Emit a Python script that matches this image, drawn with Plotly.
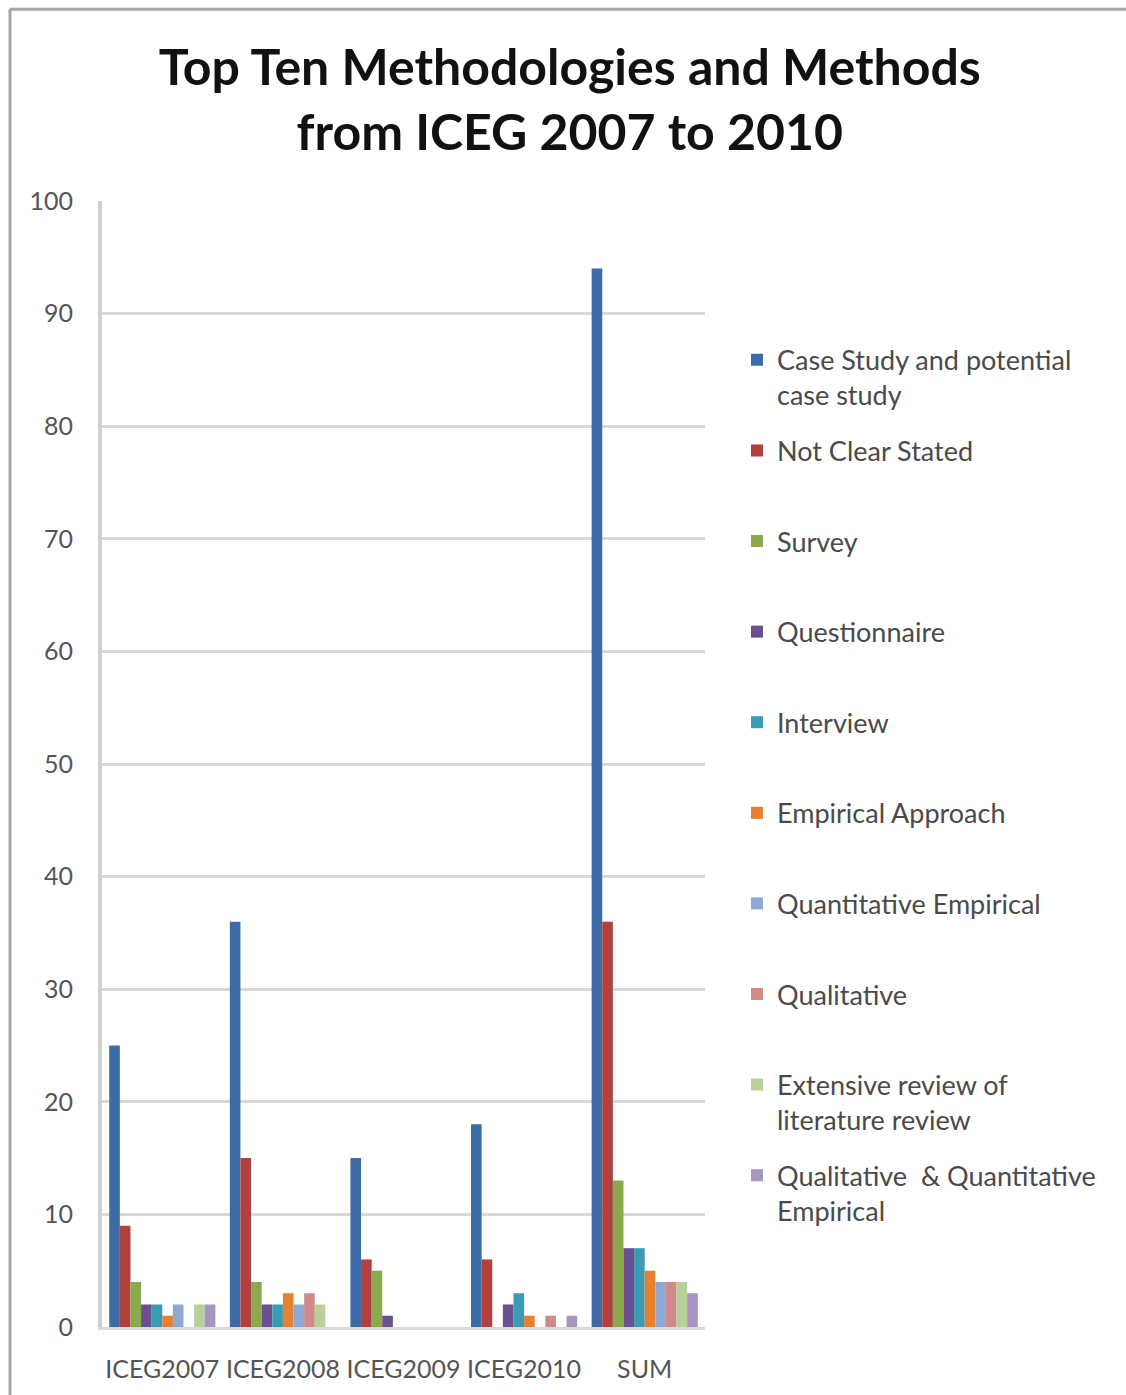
import plotly.graph_objects as go

# Conference editions plus the overall total
categories = ["ICEG2007", "ICEG2008", "ICEG2009", "ICEG2010", "SUM"]

# Paper counts per methodology, one list per series (same order as categories)
case_study = [25, 36, 15, 18, 94]
not_clear = [9, 15, 6, 6, 36]
survey = [4, 4, 5, 0, 13]
questionnaire = [2, 2, 1, 2, 7]
interview = [2, 2, 0, 3, 7]
empirical = [1, 3, 0, 1, 5]
quant_empirical = [2, 2, 0, 0, 4]
qualitative = [0, 3, 0, 1, 4]
lit_review = [2, 2, 0, 0, 4]
qual_quant = [2, 0, 0, 1, 3]

series_names = [
    "Case Study and potential<br>case study",
    "Not Clear Stated<br> ",
    "Survey<br> ",
    "Questionnaire<br> ",
    "Interview<br> ",
    "Empirical Approach<br> ",
    "Quantitative Empirical<br> ",
    "Qualitative<br> ",
    "Extensive review of<br>literature review",
    "Qualitative  & Quantitative<br>Empirical",
]
series_values = [case_study, not_clear, survey, questionnaire, interview,
                 empirical, quant_empirical, qualitative, lit_review, qual_quant]
series_colors = ["#3C6BA8", "#B0413E", "#8AAA4E", "#6B5090", "#3A9BB5",
                 "#E6822F", "#8EA9D6", "#D08A88", "#B9D198", "#A794C0"]

fig = go.Figure()
for i, (name, vals, col) in enumerate(zip(series_names, series_values, series_colors)):
    fig.add_trace(go.Bar(
        x=categories, y=vals, name=name,
        marker=dict(color=col, line=dict(width=0)),
        legendgroup=f"g{i}",
    ))

# plot-area geometry in pixels (for the frame drawn around the chart)
W, H = 1126, 1395
L, R, T, B = 102, 421, 201, 66
pw, ph = W - L - R, H - T - B

def px_x(x):
    return (x - L) / pw

def px_y(y):
    return (H - B - y) / ph

fig.update_layout(
    width=W, height=H,
    margin=dict(l=L, r=R, t=T, b=B),
    paper_bgcolor="white",
    plot_bgcolor="white",
    barmode="group",
    bargap=0.12,
    bargroupgap=0,
    font=dict(family="Lato, 'Open Sans', sans-serif", color="#333333"),
    title=dict(
        text="<b>Top Ten Methodologies and Methods<br>from ICEG 2007 to 2010</b>",
        x=0.506, xref="container", xanchor="center",
        y=1 - 85 / H, yref="container", yanchor="top",
        font=dict(size=50, color="#111111", family="Lato, sans-serif"),
    ),
    legend=dict(
        x=px_x(737), xanchor="left",
        y=px_y(336), yanchor="top",
        font=dict(size=27, color="#4a4a4a"),
        tracegroupgap=17.4,
        valign="top",
        bgcolor="rgba(0,0,0,0)",
    ),
    showlegend=True,
)

fig.update_yaxes(
    range=[0, 100], dtick=10,
    showgrid=True, gridcolor="#d9d9d9", gridwidth=3,
    showline=True, linecolor="#d0d0d0", linewidth=4,
    zeroline=False,
    ticks="", ticklabelstandoff=20,
    tickfont=dict(size=25, color="#555555", family="Lato, sans-serif"),
)
fig.update_xaxes(
    showline=True, linecolor="#d9d9d9", linewidth=3,
    ticks="", ticklabelstandoff=18,
    tickfont=dict(size=25, color="#555555", family="Lato, sans-serif"),
)

# outer chart frame (left and top edges)
fig.add_shape(type="line", xref="paper", yref="paper",
              x0=px_x(10), x1=px_x(1130), y0=px_y(9), y1=px_y(9),
              line=dict(color="#a6a6a6", width=3))
fig.add_shape(type="line", xref="paper", yref="paper",
              x0=px_x(10), x1=px_x(10), y0=px_y(9), y1=px_y(1400),
              line=dict(color="#a6a6a6", width=3))

fig.write_html("out.html")
